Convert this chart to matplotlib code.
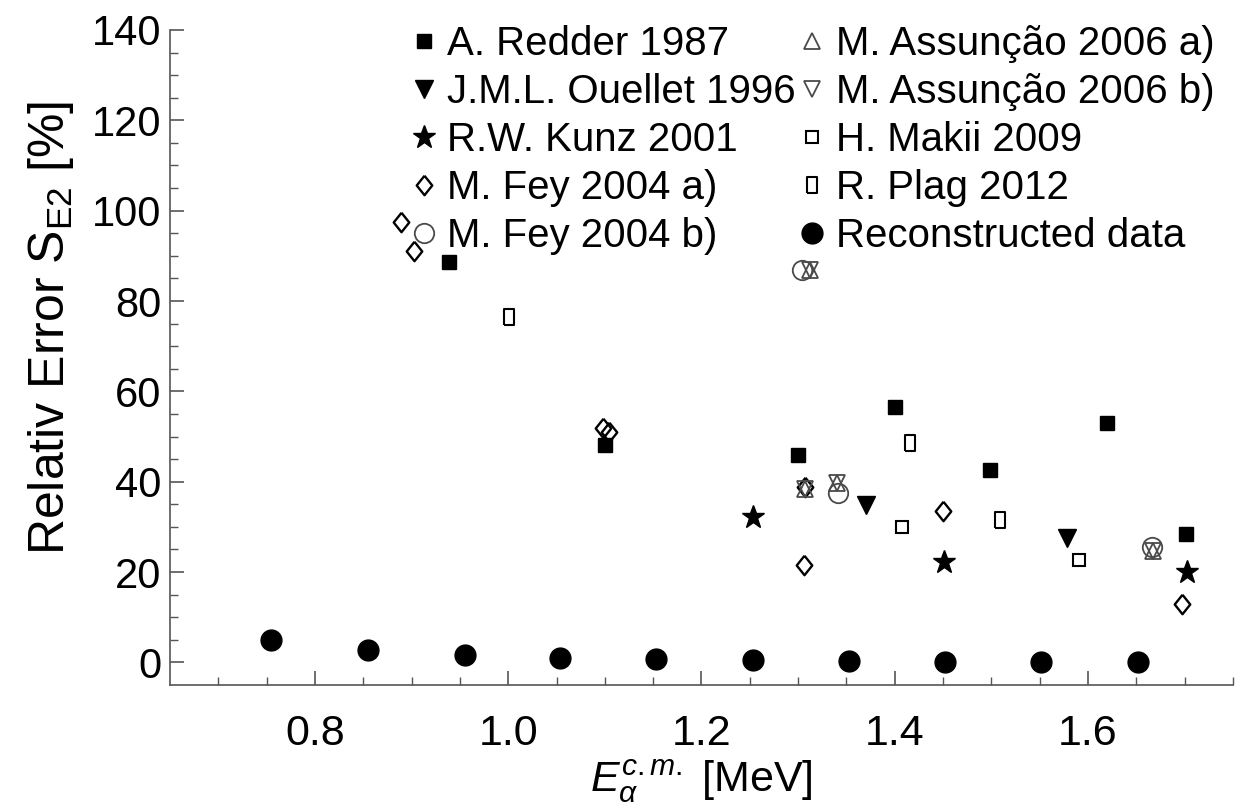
import matplotlib
matplotlib.use('Agg')
import matplotlib.pyplot as plt

plt.rcParams['font.family'] = ['Liberation Sans', 'DejaVu Sans']
plt.rcParams['mathtext.fontset'] = 'custom'
plt.rcParams['mathtext.rm'] = 'Liberation Sans'
plt.rcParams['mathtext.it'] = 'Liberation Sans:italic'

# data
redder_e = [0.939, 1.100, 1.300, 1.400, 1.499, 1.620, 1.701]
redder_err = [88.7, 48.1, 45.9, 56.6, 42.6, 53.1, 28.4]

ouellet_e = [1.370, 1.578]
ouellet_err = [34.8, 27.5]

kunz_e = [1.253, 1.451, 1.702]
kunz_err = [32.3, 22.2, 20.1]

fey_a_e = [0.889, 0.902, 1.098, 1.104, 1.306, 1.307, 1.450, 1.697]
fey_a_err = [97.6, 91.0, 52.0, 50.9, 21.6, 38.8, 33.5, 12.9]

fey_b_e = [1.304, 1.341, 1.666]
fey_b_err = [86.9, 37.4, 25.6]

assuncao_a_e = [1.312, 1.307, 1.340, 1.667]
assuncao_a_err = [86.9, 38.3, 39.8, 24.6]

assuncao_b_e = [1.312, 1.307, 1.340, 1.667]
assuncao_b_err = [86.9, 38.3, 39.8, 24.6]

makii_e = [1.407, 1.591]
makii_err = [30.0, 22.7]

plag_e = [1.001, 1.416, 1.509]
plag_err = [76.4, 48.6, 31.5]

recon_e = [0.755, 0.855, 0.955, 1.054, 1.153, 1.253, 1.353, 1.452, 1.551, 1.652]
recon_err = [4.9, 2.7, 1.6, 0.9, 0.7, 0.5, 0.3, 0.2, 0.1, 0.1]

# marker shapes: squat diamond and tall open rectangle
diamond = [(0, 1), (0.8, 0), (0, -1), (-0.8, 0), (0, 1)]
tall_rect = [(-0.65, -1), (0.65, -1), (0.65, 1), (-0.65, 1), (-0.65, -1)]

fig = plt.figure(figsize=(12.53, 8.10), dpi=100)
ax = fig.add_axes([0.1357, 0.1543, 0.8483, 0.8087])

gray = '#4a4a4a'
ax.plot(redder_e, redder_err, 's', color='black', ms=10, ls='none', label='A. Redder 1987')
ax.plot(ouellet_e, ouellet_err, 'v', color='black', ms=13, ls='none', label='J.M.L. Ouellet 1996')
ax.plot(kunz_e, kunz_err, '*', color='black', ms=17, ls='none', label='R.W. Kunz 2001')
ax.plot(fey_a_e, fey_a_err, marker=diamond, mfc='none', mec='black', mew=1.7, ms=14, ls='none', label='M. Fey 2004 a)')
ax.plot(fey_b_e, fey_b_err, 'o', mfc='none', mec=gray, mew=1.3, ms=14, ls='none', label='M. Fey 2004 b)')
ax.plot(assuncao_a_e, assuncao_a_err, '^', mfc='none', mec=gray, mew=1.3, ms=11, ls='none', label='M. Assunção 2006 a)')
ax.plot(assuncao_b_e, assuncao_b_err, 'v', mfc='none', mec=gray, mew=1.3, ms=11, ls='none', label='M. Assunção 2006 b)')
ax.plot(makii_e, makii_err, 's', mfc='none', mec='black', mew=1.5, ms=9, ls='none', label='H. Makii 2009')
ax.plot(plag_e, plag_err, marker=tall_rect, mfc='none', mec='black', mew=1.5, ms=11, ls='none', label='R. Plag 2012')
ax.plot(recon_e, recon_err, 'o', color='black', ms=15, ls='none', label='Reconstructed data')

ax.set_xlim(0.65, 1.75)
ax.set_ylim(-5, 140)
ax.set_xticks([0.8, 1.0, 1.2, 1.4, 1.6])
ax.set_xticks([0.70, 0.75, 0.85, 0.90, 0.95, 1.05, 1.10, 1.15, 1.25, 1.30, 1.35,
               1.45, 1.50, 1.55, 1.65, 1.70, 1.75], minor=True)
ax.set_xticklabels(['0.8', '1.0', '1.2', '1.4', '1.6'])
ax.set_yticks([0, 20, 40, 60, 80, 100, 120, 140])
ax.set_yticks([v for v in range(5, 140, 5) if v % 20 != 0], minor=True)

for side in ['top', 'right']:
    ax.spines[side].set_visible(False)
for side in ['left', 'bottom']:
    ax.spines[side].set_color('#555555')
    ax.spines[side].set_linewidth(1.2)

ax.tick_params(which='major', direction='in', length=10, width=1.2, color='#555555',
               labelsize=30)
ax.tick_params(axis='x', which='major', labelsize=31, pad=21)
ax.tick_params(axis='y', which='major', pad=6)
ax.tick_params(which='minor', direction='in', length=6, width=1.0, color='#555555')

ax.set_ylabel('Relativ Error S$_{\\mathrm{E2}}$ [%]', fontsize=36)
ax.yaxis.set_label_coords(-0.088, 0.545)
ax.set_xlabel('$E_{\\alpha}^{c.m.}$ [MeV]', fontsize=31, labelpad=2)

ax.legend(ncol=2, frameon=False, loc='upper left', bbox_to_anchor=(0.330, 0.969),
          bbox_transform=fig.transFigure, fontsize=29, handletextpad=0.34,
          columnspacing=0.15, labelspacing=0.25, handlelength=0.5,
          borderpad=0.0, borderaxespad=0.0)

fig.savefig('out.png', dpi=100)
